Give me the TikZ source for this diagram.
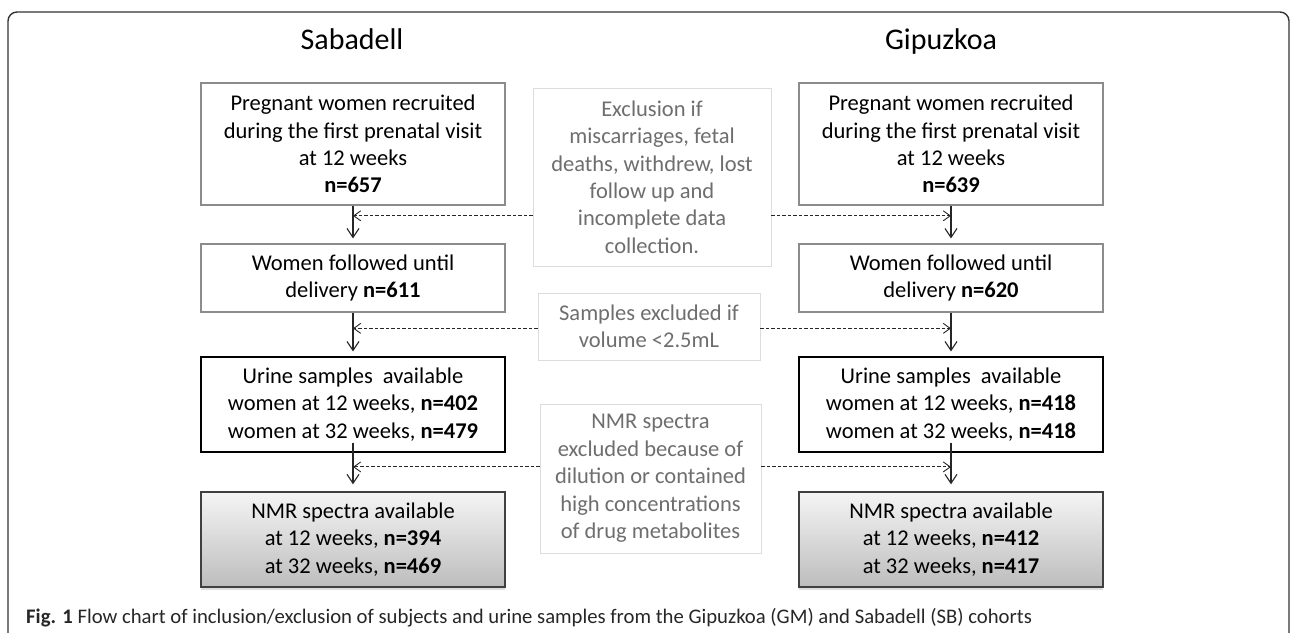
\documentclass[tikz,border=0pt]{standalone}
\usepackage{fontspec}
\setmainfont{Carlito}
\usetikzlibrary{calc,arrows.meta,shadows}
\definecolor{boxgray}{HTML}{8C8C8C}
\definecolor{exclgray}{HTML}{DCDCDC}
\definecolor{excltext}{HTML}{6E6E6E}

\begin{document}
\begin{tikzpicture}[x=1pt,y=-1pt,
  box/.style={draw=boxgray, line width=1.2pt, minimum width=304pt, align=center,
    inner sep=0pt, font=\fontsize{22.5}{27.4}\selectfont},
  nmrbox/.style={box, draw=black!75, line width=1.4pt, top color=black!4, bottom color=black!26,
    drop shadow={shadow xshift=0pt, shadow yshift=-3pt, opacity=0.25}},
  exclbox/.style={draw=exclgray, line width=0.8pt, align=center, inner sep=0pt,
    text=excltext, font=\fontsize{22.5}{27.4}\selectfont},
  title/.style={anchor=base, inner sep=0pt, font=\fontsize{30}{36}\selectfont},
  flow/.style={line width=1.1pt, draw=black!85, -{Straight Barb[length=9pt,width=12pt]}, shorten >=5pt},
  skip/.style={line width=0.9pt, draw=black!85, dash pattern=on 3.5pt off 2pt,
    -{Straight Barb[length=7pt,width=10pt]}}]
\clip (0,0) rectangle (1290,632);
\draw[line width=1.4pt, draw=black!80, rounded corners=9pt] (8,700) -- (8,12) -- (1289,12) -- (1289,700);

\foreach \c/\x/\tx/\t/\na/\nb/\nc/\nd/\ne/\nf in
  {S/353/352/Sabadell/657/611/402/479/394/469, G/951/941/Gipuzkoa/639/620/418/418/412/417} {
  \node[title] (\c-title) at (\tx,49) {\t};
  \node[box, minimum height=122pt] (\c-recruit) at (\x,144)
    {Pregnant women recruited\\during the first prenatal visit\\at 12 weeks\\\textbf{n=\na}};
  \node[box, minimum height=68pt] (\c-deliv) at (\x,278) {Women followed until\\delivery \textbf{n=\nb}};
  \node[box, draw=black, minimum height=95pt] (\c-urine) at (\x,404.5)
    {Urine samples~ available\\women at 12 weeks, \textbf{n=\nc}\\women at 32 weeks, \textbf{n=\nd}};
  \node[nmrbox, minimum height=95pt] (\c-nmr) at (\x,539.5)
    {NMR spectra available\\at 12 weeks, \textbf{n=\ne}\\at 32 weeks, \textbf{n=\nf}};

  \draw[flow] (\c-recruit) -- (\c-deliv);
  \draw[flow] (\c-deliv) -- (\c-urine);
  \draw[flow, shorten <=-10pt, shorten >=7pt] (\c-urine) -- (\c-nmr);

  \path (\c-recruit.south) -- (\c-deliv.north) coordinate[pos=0.27] (\c-j1);
  \path (\c-deliv.south) -- (\c-urine.north) coordinate[pos=0.36] (\c-j2);
  \path (\c-urine.south) -- (\c-nmr.north) coordinate[pos=0.37] (\c-j3);
}

% exclusions in the middle
\node[exclbox, minimum width=238pt, minimum height=178pt] (lost) at (652,177)
  {Exclusion if\\miscarriages, fetal\\deaths, withdrew, lost\\follow up and\\incomplete data\\collection.};
\node[exclbox, minimum width=222pt, minimum height=67pt] (volume) at (649,326.5)
  {Samples excluded if\\volume <2.5mL};
\node[exclbox, minimum width=221pt, minimum height=149pt] (dilution) at (650.5,478.5)
  {NMR spectra\\excluded because of\\dilution or contained\\high concentrations\\of drug metabolites};

\draw[skip] (lost.west |- S-j1) -- (S-j1);
\draw[skip] (lost.east |- G-j1) -- (G-j1);
\draw[skip] (volume.west |- S-j2) -- (S-j2);
\draw[skip] (volume.east |- G-j2) -- (G-j2);
\draw[skip] (dilution.west |- S-j3) -- (S-j3);
\draw[skip] (dilution.east |- G-j3) -- (G-j3);

\node[anchor=west, inner sep=0pt, text=black!85, font=\fontsize{20.7}{24}\selectfont] (caption) at (26,618)
  {\textbf{Fig. 1} Flow chart of inclusion/exclusion of subjects and urine samples from the Gipuzkoa (GM) and Sabadell (SB) cohorts};
\end{tikzpicture}
\end{document}
